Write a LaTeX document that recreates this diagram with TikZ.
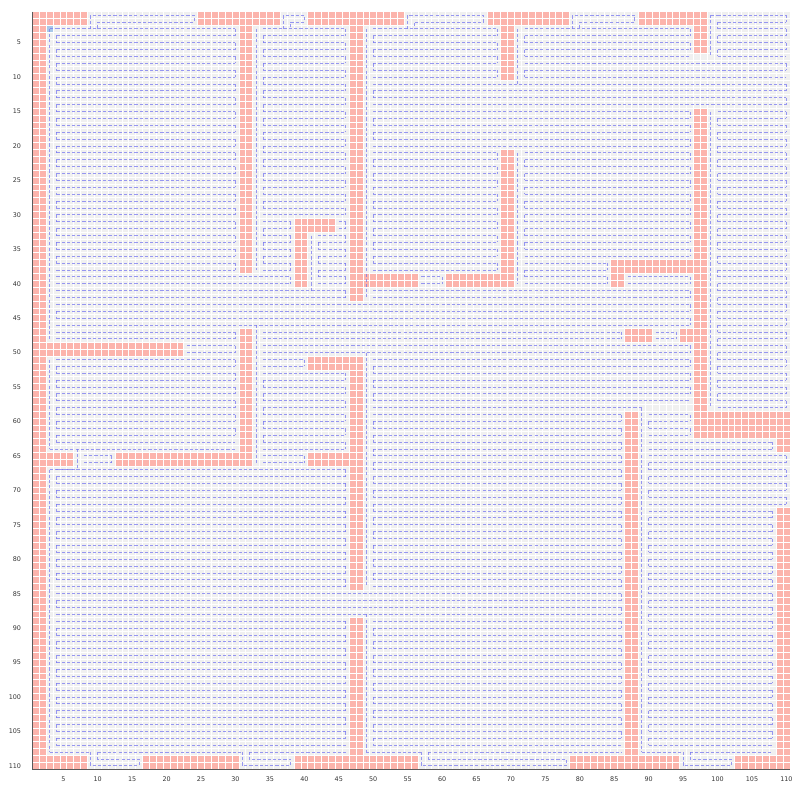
\documentclass[tikz,border=0pt]{standalone}
\usepackage{fontspec}
\setmainfont{DejaVu Sans}
\usepackage{xcolor}
\usepackage{tikz}

\definecolor{wallred}{RGB}{252,180,172}
\definecolor{freegray}{RGB}{240,240,240}
\definecolor{routeblue}{RGB}{120,120,240}
\definecolor{startblue}{RGB}{168,200,232}
\definecolor{axisgray}{RGB}{90,90,90}

% cells are counted from 1: column #1..#2, row #3..#4
\newcommand{\wall}[4]{\fill[wallcell] ({#1-1},{#3-1}) rectangle (#2,#4);}
\newcommand{\hseg}[3]{\draw[route] ({#2-.5},{#1-.5}) -- ({#3-.5},{#1-.5});}
\newcommand{\transit}[3]{\draw[route] ({#1-.5},{#2-.5}) -- ({#1-.5},{#3-.5});}
\newcommand{\sweep}[4]{%
  \foreach \row in {#3,...,#4}{%
    \draw[route] ({#1-.5},{\row-.5}) -- ({#2-.5},{\row-.5});
    \ifnum\row<#4
      \pgfmathtruncatemacro{\sweepk}{\row-#3}%
      \ifodd\sweepk
        \draw[route] ({#1-.5},{\row-.5}) -- ({#1-.5},{\row+.5});
      \else
        \draw[route] ({#2-.5},{\row-.5}) -- ({#2-.5},{\row+.5});
      \fi
    \fi}}
\newcommand{\toppocket}[2]{\draw[route] ({#1-.5},2.5) -- ({#1-.5},.5) -- ({#2-.5},.5)
  -- ({#2-.5},1.5) -- ({#1+.5},1.5) -- ({#1+.5},2.5);}
\newcommand{\botpocket}[2]{\draw[route] ({#1-.5},107.5) -- ({#1-.5},109.5) -- ({#2-.5},109.5)
  -- ({#2-.5},108.5) -- ({#1+.5},108.5) -- ({#1+.5},107.5);}

\begin{document}
\begin{tikzpicture}[
  x=0.2cm, y=-0.2cm,
  wallcell/.style={fill=wallred},
  gridline/.style={draw=white, line width=0.55pt},
  route/.style={draw=routeblue, line width=0.75pt, dash pattern=on 2.6pt off 1.7pt, opacity=0.75},
  axisline/.style={draw=axisgray, line width=0.8pt},
  ticklabel/.style={text=black!80, font=\fontsize{5.3}{6}\selectfont, inner sep=0pt}
]
\useasboundingbox (-4.69,-1.70) rectangle (111.41,114.46);
\fill[freegray] (0,0) rectangle (110,110);

% obstacles
\wall{1}{2}{1}{110}
\wall{3}{8}{1}{2}
\wall{25}{36}{1}{2}
\wall{31}{32}{3}{38}
\wall{41}{54}{1}{2}
\wall{47}{48}{3}{42}
\wall{67}{78}{1}{2}
\wall{69}{70}{3}{10}
\wall{89}{98}{1}{2}
\wall{97}{98}{3}{6}
\wall{97}{98}{15}{62}
\wall{85}{96}{37}{38}
\wall{85}{86}{39}{40}
\wall{69}{70}{21}{40}
\wall{61}{68}{39}{40}
\wall{39}{44}{31}{32}
\wall{39}{40}{33}{40}
\wall{49}{56}{39}{40}
\wall{87}{90}{47}{48}
\wall{95}{96}{47}{48}
\wall{3}{22}{49}{50}
\wall{31}{32}{47}{66}
\wall{3}{6}{65}{66}
\wall{13}{30}{65}{66}
\wall{41}{48}{51}{52}
\wall{47}{48}{53}{84}
\wall{41}{46}{65}{66}
\wall{99}{110}{59}{62}
\wall{109}{110}{63}{64}
\wall{87}{88}{59}{110}
\wall{109}{110}{73}{110}
\wall{3}{8}{109}{110}
\wall{17}{30}{109}{110}
\wall{39}{56}{109}{110}
\wall{47}{48}{89}{108}
\wall{79}{94}{109}{110}
\wall{103}{108}{109}{110}

% start cell
\fill[startblue] (2,2) rectangle (3,3);

\foreach \i in {0,...,110} {
  \draw[gridline] (\i,0) -- (\i,110);
  \draw[gridline] (0,\i) -- (110,\i);
}

% coverage route
\toppocket{9}{24}
\toppocket{37}{40}
\toppocket{55}{66}
\toppocket{79}{88}
\hseg{1}{99}{100}
\transit{99}{1}{7}
\sweep{100}{110}{1}{7}

\transit{3}{3}{48}
\hseg{3}{3}{4}
\sweep{4}{30}{3}{38}
\transit{33}{3}{38}
\sweep{34}{46}{3}{30}
\sweep{34}{38}{31}{38}
\sweep{45}{46}{31}{32}
\transit{41}{33}{41}
\sweep{42}{46}{33}{40}

\transit{49}{3}{42}
\sweep{50}{68}{3}{10}
\transit{71}{3}{11}
\sweep{72}{96}{3}{7}
\sweep{72}{110}{8}{10}
\sweep{50}{110}{11}{14}
\sweep{50}{96}{15}{20}
\sweep{50}{68}{21}{38}
\sweep{57}{60}{39}{40}
\transit{71}{21}{40}
\sweep{72}{96}{21}{36}
\sweep{72}{84}{37}{40}
\sweep{87}{96}{39}{40}
\transit{99}{15}{58}
\sweep{100}{110}{15}{58}

\sweep{4}{38}{39}{40}
\sweep{4}{46}{41}{42}
\sweep{50}{96}{41}{42}
\sweep{4}{96}{43}{46}
\sweep{4}{30}{47}{48}
\sweep{23}{30}{49}{50}
\transit{33}{46}{66}
\sweep{34}{86}{47}{48}
\sweep{91}{94}{47}{48}
\sweep{34}{96}{49}{50}
\sweep{34}{40}{51}{52}
\sweep{34}{46}{53}{64}
\sweep{34}{40}{65}{66}

\transit{3}{51}{64}
\sweep{4}{30}{51}{63}
\hseg{64}{3}{30}
\transit{7}{64}{67}
\sweep{8}{12}{65}{66}
\hseg{67}{3}{7}
\transit{3}{67}{108}
\sweep{4}{46}{67}{84}
\sweep{4}{86}{85}{88}
\sweep{4}{46}{89}{107}

\transit{49}{50}{84}
\sweep{50}{96}{51}{57}
\hseg{58}{50}{89}
\sweep{50}{86}{59}{84}
\transit{49}{88}{108}
\sweep{50}{86}{89}{107}

\transit{89}{58}{108}
\sweep{90}{96}{59}{62}
\sweep{90}{108}{63}{64}
\sweep{90}{110}{65}{72}
\sweep{90}{108}{73}{107}

\hseg{108}{3}{9}
\hseg{108}{10}{31}
\hseg{108}{32}{46}
\hseg{108}{49}{57}
\hseg{108}{58}{86}
\hseg{108}{89}{95}
\hseg{108}{96}{108}
\botpocket{9}{16}
\botpocket{31}{38}
\botpocket{57}{78}
\botpocket{95}{102}

% axes
\draw[axisline] (0,0) -- (0,110) -- (110,110);
\foreach \v in {5,10,...,110} {
  \node[ticklabel, anchor=east] (ylab\v) at (-1.6,{\v-.5}) {\v};
  \node[ticklabel] (xlab\v) at ({\v-.5},111.5) {\v};
}
\end{tikzpicture}
\end{document}
